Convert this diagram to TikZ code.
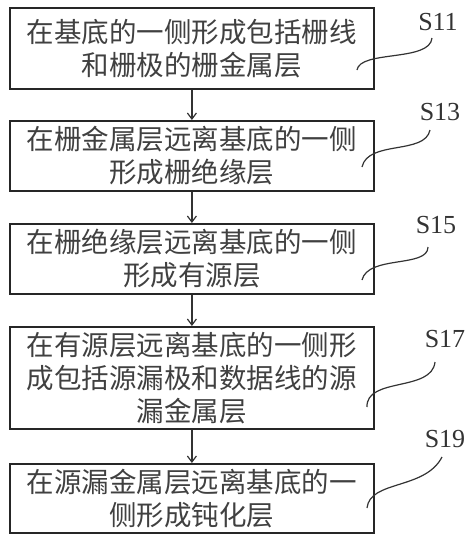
\documentclass[tikz,border=0pt]{standalone}
\usepackage{fontspec}
\newfontfamily\cjk{Noto Sans CJK SC}
\newfontfamily\lbl{Liberation Serif}
\usetikzlibrary{arrows.meta}
\begin{document}
\begin{tikzpicture}[x=1pt,y=-1pt,
  stepbox/.style={draw=black!85,line width=1.8pt,minimum width=364pt,inner sep=0pt,
    align=center,anchor=north west,text=black!75,
    font=\cjk\fontsize{27.5}{33}\selectfont},
  flow/.style={draw=black!80,line width=1.2pt,-{Straight Barb[length=6pt,width=9pt]}},
  squig/.style={draw=black!80,line width=1.2pt},
  tag/.style={font=\lbl\fontsize{26}{28}\selectfont,text=black!80,anchor=base,inner sep=0pt}]
\useasboundingbox (0,0) rectangle (474,539);
\node[stepbox,minimum height=81pt] (b1) at (9,7) {在基底的一侧形成包括栅线\\和栅极的栅金属层};
\node[stepbox,minimum height=70pt] (b2) at (9,120) {在栅金属层远离基底的一侧\\形成栅绝缘层};
\node[stepbox,minimum height=70pt] (b3) at (9,223) {在栅绝缘层远离基底的一侧\\形成有源层};
\node[stepbox,minimum height=102pt] (b4) at (9,326) {在有源层远离基底的一侧形\\成包括源漏极和数据线的源\\漏金属层};
\node[stepbox,minimum height=69pt] (b5) at (9,463) {在源漏金属层远离基底的一\\侧形成钝化层};
\draw[flow] (b1.south) -- (b2.north);
\draw[flow] (b2.south) -- (b3.north);
\draw[flow] (b3.south) -- (b4.north);
\draw[flow] (b4.south) -- (b5.north);
% labels and squiggles
\coordinate (s11a) at (357,70); \coordinate (s11b) at (432,38);
\coordinate (s13a) at (362,167); \coordinate (s13b) at (430,130);
\coordinate (s15a) at (362,280); \coordinate (s15b) at (428,247);
\coordinate (s17a) at (367,407); \coordinate (s17b) at (435,362);
\coordinate (s19a) at (367,508); \coordinate (s19b) at (442,457);
\draw[squig] (s11a) .. controls (360,50) and (430,62) .. (s11b);
\draw[squig] (s13a) .. controls (368,140) and (425,155) .. (s13b);
\draw[squig] (s15a) .. controls (368,255) and (428,268) .. (s15b);
\draw[squig] (s17a) .. controls (366,377) and (432,392) .. (s17b);
\draw[squig] (s19a) .. controls (370,480) and (425,490) .. (s19b);
\node[tag] (t11) at (438,30) {S11};
\node[tag] (t13) at (440,120) {S13};
\node[tag] (t15) at (436,233) {S15};
\node[tag] (t17) at (445,347) {S17};
\node[tag] (t19) at (445,447) {S19};
\end{tikzpicture}
\end{document}
